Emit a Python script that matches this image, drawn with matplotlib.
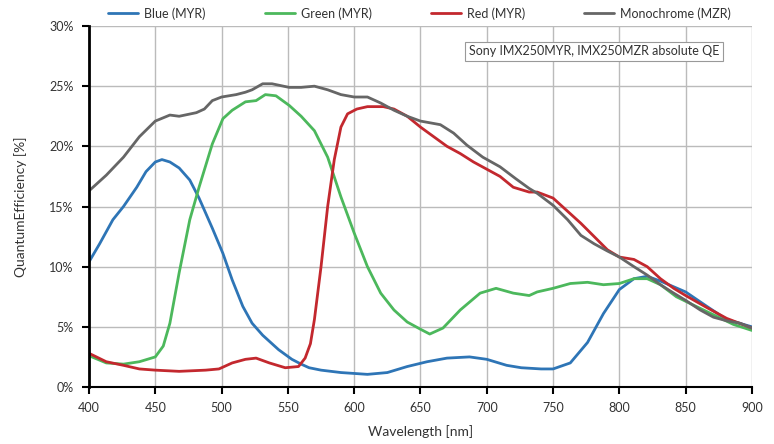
import matplotlib
matplotlib.use("Agg")
import matplotlib.pyplot as plt
from matplotlib.ticker import FuncFormatter

plt.rcParams["font.family"] = ["Lato", "DejaVu Sans"]

# values (wavelength in nm, QE in %)
blue_wl = [400, 408, 418, 426, 436, 443, 450, 455, 461, 468, 476, 483, 493, 501,
           508, 516, 523, 531, 543, 553, 560, 566, 575, 590, 610, 625, 640, 655,
           670, 687, 700, 715, 726, 741, 750, 763, 776, 788, 800, 811, 821, 831,
           850, 866, 881, 900]
blue_qe = [10.4, 11.9, 13.9, 15.0, 16.6, 17.9, 18.7, 18.9, 18.7, 18.2, 17.2, 15.7,
           13.2, 11.1, 8.9, 6.7, 5.3, 4.3, 3.1, 2.3, 1.9, 1.6, 1.4, 1.2, 1.05, 1.2,
           1.7, 2.1, 2.4, 2.5, 2.3, 1.8, 1.6, 1.5, 1.5, 2.0, 3.7, 6.1, 8.1, 9.0,
           9.2, 8.8, 7.9, 6.7, 5.6, 5.0]

green_wl = [400, 413, 426, 438, 450, 456, 461, 468, 476, 483, 493, 501, 508, 518,
            526, 533, 541, 551, 560, 570, 580, 590, 600, 610, 620, 630, 640, 650,
            657, 667, 680, 695, 707, 720, 732, 738, 750, 763, 776, 788, 800, 811,
            821, 831, 843, 856, 871, 886, 900]
green_qe = [2.6, 2.0, 1.9, 2.1, 2.5, 3.4, 5.3, 9.5, 13.9, 16.6, 20.2, 22.3, 23.0,
            23.7, 23.8, 24.3, 24.2, 23.4, 22.5, 21.3, 19.1, 15.8, 12.8, 10.0, 7.8,
            6.4, 5.4, 4.8, 4.4, 4.9, 6.4, 7.8, 8.2, 7.8, 7.6, 7.9, 8.2, 8.6, 8.7,
            8.5, 8.6, 9.0, 9.0, 8.5, 7.5, 6.8, 6.0, 5.2, 4.7]

red_wl = [400, 413, 426, 438, 450, 468, 488, 498, 508, 518, 526, 536, 548, 558,
          563, 567, 570, 575, 580, 585, 590, 595, 602, 610, 622, 630, 640, 650,
          660, 670, 680, 690, 700, 710, 720, 732, 738, 750, 761, 771, 781, 791,
          800, 811, 821, 831, 841, 850, 866, 881, 900]
red_qe = [2.8, 2.1, 1.8, 1.5, 1.4, 1.3, 1.4, 1.5, 2.0, 2.3, 2.4, 2.0, 1.6, 1.7,
          2.4, 3.6, 5.6, 10.0, 15.0, 18.9, 21.6, 22.7, 23.1, 23.3, 23.3, 23.1,
          22.5, 21.6, 20.8, 20.0, 19.4, 18.7, 18.1, 17.5, 16.6, 16.2, 16.2, 15.7,
          14.6, 13.6, 12.5, 11.4, 10.8, 10.6, 10.0, 9.0, 8.2, 7.6, 6.6, 5.7, 4.9]

mono_wl = [400, 413, 426, 438, 450, 461, 468, 481, 487, 493, 500, 511, 518, 523,
           531, 538, 551, 560, 570, 580, 590, 600, 610, 620, 630, 640, 650, 665,
           675, 685, 697, 710, 722, 732, 738, 750, 761, 771, 781, 791, 800, 811,
           821, 831, 841, 850, 861, 871, 881, 891, 900]
mono_qe = [16.3, 17.6, 19.1, 20.8, 22.1, 22.6, 22.5, 22.8, 23.1, 23.8, 24.1, 24.3,
           24.5, 24.7, 25.2, 25.2, 24.9, 24.9, 25.0, 24.7, 24.3, 24.1, 24.1, 23.6,
           23.0, 22.5, 22.1, 21.8, 21.1, 20.1, 19.1, 18.3, 17.3, 16.5, 16.1, 15.1,
           13.9, 12.6, 11.9, 11.3, 10.8, 10.0, 9.3, 8.5, 7.8, 7.2, 6.4, 5.8, 5.5,
           5.3, 4.9]

labels = ["Blue (MYR)", "Green (MYR)", "Red (MYR)", "Monochrome (MZR)"]
colors = ["#2e75b6", "#4cb85c", "#c3282e", "#666666"]

fig = plt.figure(figsize=(7.74, 4.44), dpi=100)
ax = fig.add_axes([0.115, 0.1284, 0.8565, 0.813])

series = [(blue_wl, blue_qe), (green_wl, green_qe), (red_wl, red_qe), (mono_wl, mono_qe)]
for (wl, qe), lab, col in zip(series, labels, colors):
    ax.plot(wl, qe, color=col, lw=2.0, label=lab, solid_capstyle="round")

ax.set_xlim(400, 900)
ax.set_ylim(0, 30)
ax.set_xticks(range(400, 901, 50))
ax.set_yticks(range(0, 31, 5))
ax.yaxis.set_major_formatter(FuncFormatter(lambda v, p: f"{v:.0f}%"))
ax.grid(True, color="#bbbbbb", lw=1.0)
ax.set_axisbelow(True)

ax.spines["top"].set_visible(False)
ax.spines["right"].set_visible(False)
ax.spines["left"].set_linewidth(2.0)
ax.spines["bottom"].set_linewidth(1.5)
ax.tick_params(axis="both", direction="out", length=5, width=1.5,
               labelsize=9, colors="black", labelcolor="#333333", pad=6)

ax.set_xlabel("Wavelength [nm]", fontsize=10, color="#333333", labelpad=8)
ax.set_ylabel("QuantumEfficiency [%]", fontsize=10, color="#333333", labelpad=16)

ax.text(0.762, 0.93, "Sony IMX250MYR, IMX250MZR absolute QE", transform=ax.transAxes,
        ha="center", va="center", fontsize=9, color="#333333",
        bbox=dict(boxstyle="square,pad=0.3", fc="white", ec="#999999", lw=0.8))

fig.legend(loc="center", bbox_to_anchor=(0.542, 0.97), ncol=4, frameon=False,
           fontsize=9, handlelength=2.4, handletextpad=0.5, columnspacing=4.7,
           labelcolor="#333333")

fig.savefig("out.png", dpi=100)
